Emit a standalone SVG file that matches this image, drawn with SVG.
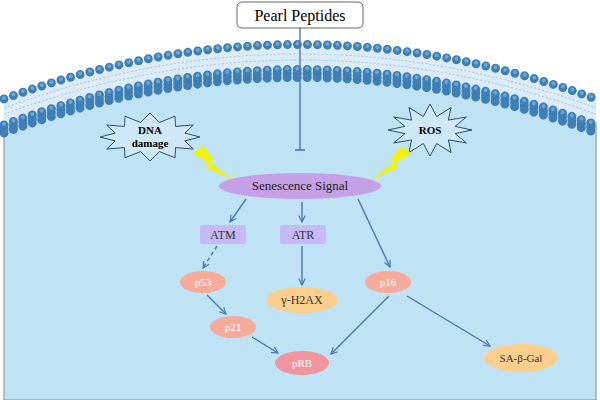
<svg xmlns="http://www.w3.org/2000/svg" width="600" height="400" viewBox="0 0 600 400">
<style>
.t{font-family:"Liberation Serif",serif;text-anchor:middle}
.bead{fill:none;stroke:#3f7fb5;stroke-width:9;stroke-linecap:round;stroke-dasharray:0 10}
.beadHi{fill:none;stroke:#6aa7d6;stroke-width:4;stroke-linecap:round;stroke-dasharray:0 10}
.c{stroke:#4a78aa;stroke-width:1.4;fill:none;marker-end:url(#a)}
</style>
<defs>
<marker id="a" viewBox="0 0 10 10" refX="9" refY="5" markerWidth="8" markerHeight="8" orient="auto" markerUnits="userSpaceOnUse"><path d="M1,1 L9,5 L1,9" fill="none" stroke="#4a78aa" stroke-width="1.5"/></marker>
</defs>
<rect width="600" height="400" fill="#fff"/>
<path d="M4,122 Q300,12 596,122 L596,400 L4,400 Z" fill="#bfe2f4" stroke="#888" stroke-width="1"/>
<g id="membrane">
<path d="M4,101 Q300,-8 596,101 L596,124 Q300,14 4,124 Z" fill="#dcecf7"/>
<path d="M4,108 Q300,0 596,108" fill="none" stroke="#9cc4e4" stroke-width="1" stroke-dasharray="2 2"/>
<path d="M4,114 Q300,6 596,114" fill="none" stroke="#9cc4e4" stroke-width="1" stroke-dasharray="2 2"/>
<path class="bead" d="M4,99 Q300,-10 596,99"/>
<path class="beadHi" d="M4,98 Q300,-11 596,98"/>
<path class="bead" d="M4,133 Q300,22 596,133"/>
<path class="bead" d="M4,129 Q300,18 596,129"/>
<path class="bead" d="M4,125 Q300,14 596,125"/>
<path class="beadHi" d="M4,124 Q300,13 596,124"/>
</g>
<g id="connectors">
<line x1="300" y1="28" x2="300" y2="150" stroke="#4a78aa" stroke-width="1.4"/>
<line x1="295" y1="150" x2="305" y2="150" stroke="#4a78aa" stroke-width="1.6"/>
<line class="c" x1="246" y1="199" x2="230" y2="222"/>
<line class="c" x1="302" y1="202" x2="302" y2="222"/>
<line class="c" x1="358" y1="199" x2="390" y2="267"/>
<line class="c" x1="217" y1="246" x2="203" y2="268" stroke-dasharray="4 3"/>
<line class="c" x1="302" y1="246" x2="302" y2="285"/>
<line class="c" x1="207" y1="295" x2="226" y2="314"/>
<line class="c" x1="252" y1="337" x2="278" y2="353"/>
<line class="c" x1="389" y1="296" x2="331" y2="354"/>
<line class="c" x1="407" y1="296" x2="490" y2="346"/>
</g>
<g id="pearl"><rect x="237" y="2" width="126" height="26" rx="5" fill="#fff" stroke="#666"/><text class="t" x="300" y="21" font-size="16">Pearl Peptides</text></g>
<g id="dna"><polygon points="200,137 184.8,140.9 193.3,149 175.5,147.6 175,157.8 159.3,151.5 150,161 140.7,151.5 125,157.8 124.5,147.6 106.7,149 115.2,140.9 100,137 115.2,133.1 106.7,125 124.5,126.4 125,116.2 140.7,122.5 150,113 159.3,122.5 175,116.2 175.5,126.4 193.3,125 184.8,133.1" fill="#cfe8f7" stroke="#2d4d6e"/><text class="t" x="150" y="134" font-size="11" font-weight="bold">DNA</text><text class="t" x="150" y="147" font-size="11" font-weight="bold">damage</text></g>
<g id="ros"><polygon points="472,130 455.1,133.6 466.4,143 448.4,139.9 451,152.5 436.7,143.5 430,156 423.3,143.5 409,152.5 411.6,139.9 393.6,143 404.9,133.6 388,130 404.9,126.4 393.6,117 411.6,120.1 409,107.5 423.3,116.5 430,104 436.7,116.5 451,107.5 448.4,120.1 466.4,117 455.1,126.4" fill="#cfe8f7" stroke="#2d4d6e"/><text class="t" x="430" y="134" font-size="11" font-weight="bold">ROS</text></g>
<g id="bolts"><polygon points="193,153 203,146 214,160 210,162 233,180 205,167 209,164" fill="#f2f20a"/><polygon points="411,153 401,146 390,160 394,162 371,180 399,167 395,164" fill="#f2f20a"/></g>
<g id="signal"><ellipse cx="300" cy="186" rx="81" ry="13" fill="#c5a0e6"/><text class="t" x="300" y="190" font-size="13" fill="#222">Senescence Signal</text></g>
<g id="atm"><rect x="200" y="225" width="46" height="19" rx="2" fill="#c7b9f6"/><text class="t" x="223" y="239" font-size="12" fill="#333">ATM</text></g>
<g id="atr"><rect x="280" y="225" width="46" height="19" rx="2" fill="#c7b9f6"/><text class="t" x="303" y="239" font-size="12" fill="#333">ATR</text></g>
<g id="p53"><ellipse cx="203" cy="282" rx="23" ry="11" fill="#f6ab9a"/><text class="t" x="203" y="286" font-size="11" fill="#fff">p53</text></g>
<g id="h2ax"><ellipse cx="302" cy="300" rx="36" ry="13" fill="#fccf8c"/><text class="t" x="302" y="304" font-size="12" fill="#333">γ-H2AX</text></g>
<g id="p21"><ellipse cx="233" cy="327" rx="23" ry="11" fill="#f6ab9a"/><text class="t" x="233" y="331" font-size="11" fill="#fff">p21</text></g>
<g id="p16"><ellipse cx="388" cy="282" rx="23" ry="11" fill="#f6ab9a"/><text class="t" x="388" y="286" font-size="11" fill="#fff">p16</text></g>
<g id="prb"><ellipse cx="302" cy="363" rx="27" ry="12" fill="#f0949e"/><text class="t" x="302" y="367" font-size="11" fill="#fff">pRB</text></g>
<g id="sagal"><ellipse cx="521" cy="358" rx="37" ry="14" fill="#fccf8c"/><text class="t" x="521" y="362" font-size="11" fill="#333">SA-β-Gal</text></g>
</svg>
